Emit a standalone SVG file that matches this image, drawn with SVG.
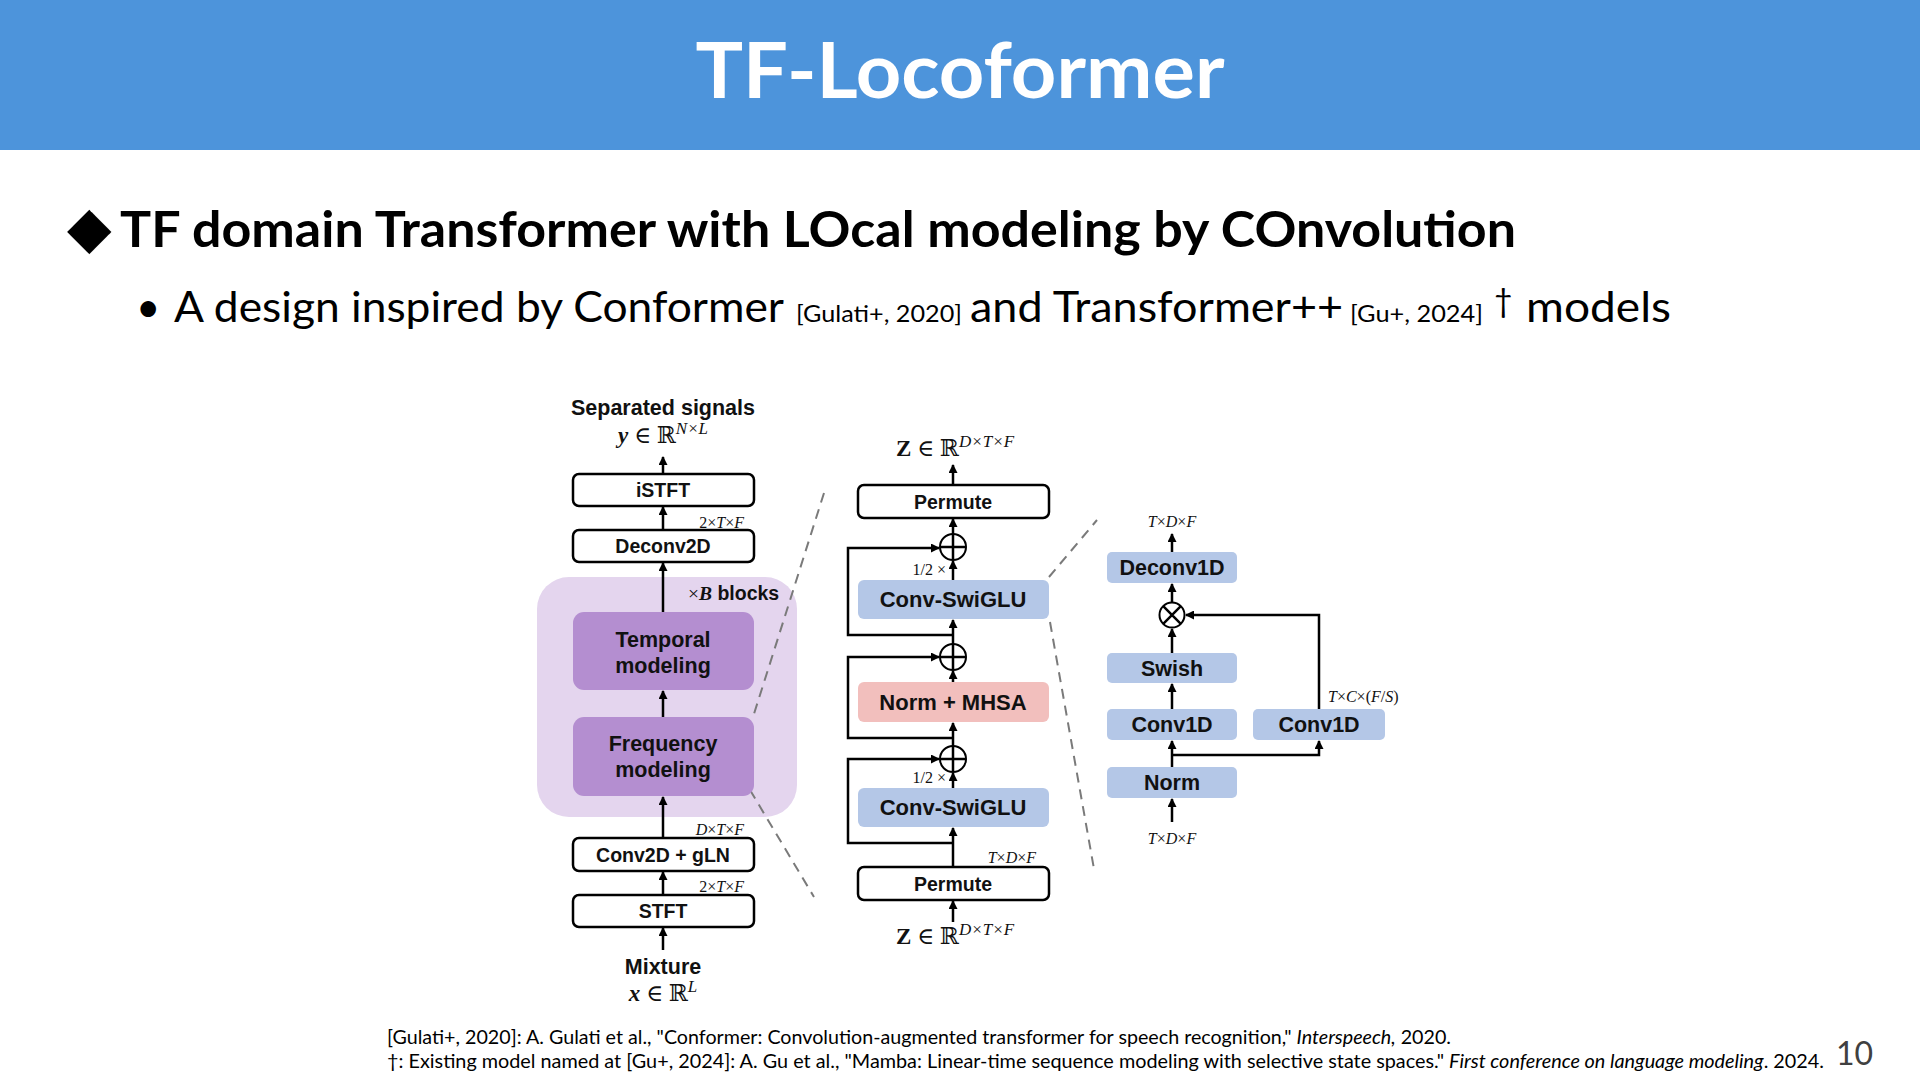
<svg xmlns="http://www.w3.org/2000/svg" width="1920" height="1080" viewBox="0 0 1920 1080">
<defs>
<style>
.slide{font-family:Lato,"Open Sans","Liberation Sans",sans-serif;fill:#000}
.lbl{font-family:"Liberation Sans",Arial,sans-serif;font-weight:bold;fill:#111;text-anchor:middle}
.math{font-family:"Liberation Serif","DejaVu Serif",serif;fill:#111}
.dim{font-family:"Liberation Serif","DejaVu Serif",serif;font-size:16px;fill:#111}
.wbox{fill:#fff;stroke:#000;stroke-width:2.5}
.pbox{fill:#B48ED0}
.bbox{fill:#B4C7E7}
.rbox{fill:#F2BFBD}
.arr{stroke:#000;stroke-width:2.5;fill:none;marker-end:url(#ah)}
.ln{stroke:#000;stroke-width:2.5;fill:none}
.dash{stroke:#7a7a7a;stroke-width:2;stroke-dasharray:10 7;fill:none}
.op{fill:#fff;stroke:#000;stroke-width:2}
</style>
<marker id="ah" markerUnits="userSpaceOnUse" markerWidth="9" markerHeight="9" refX="8" refY="4.5" orient="auto">
<path d="M0,0 L9,4.5 L0,9 z" fill="#000"/>
</marker>
</defs>
<rect width="1920" height="1080" fill="#fff"/>
<g id="header">
<rect x="0" y="0" width="1920" height="150" fill="#4D94DB"/>
<text x="960" y="98" text-anchor="middle" font-family="Lato,'Open Sans',sans-serif" font-weight="bold" font-size="76" fill="#fff" textLength="529" lengthAdjust="spacingAndGlyphs">TF-Locoformer</text>
</g>
<g id="heading">
<text x="67" y="247" font-family="'DejaVu Sans',sans-serif" font-size="58" fill="#000">◆</text>
<text class="slide" x="120" y="247" font-weight="bold" font-size="50" textLength="1396" lengthAdjust="spacingAndGlyphs">TF domain Transformer with LOcal modeling by COnvolution</text>
</g>
<g id="subbullet" class="slide">
<text x="136" y="322" font-size="42">•</text>
<text x="174" y="322" font-size="43" textLength="610" lengthAdjust="spacingAndGlyphs">A design inspired by Conformer</text>
<text x="796" y="322" font-size="23" textLength="166" lengthAdjust="spacingAndGlyphs">[Gulati+, 2020]</text>
<text x="970" y="322" font-size="43" textLength="373" lengthAdjust="spacingAndGlyphs">and Transformer++</text>
<text x="1350" y="322" font-size="23" textLength="133" lengthAdjust="spacingAndGlyphs">[Gu+, 2024]</text>
<text x="1494" y="312" font-size="32">†</text>
<text x="1526" y="322" font-size="43" textLength="145" lengthAdjust="spacingAndGlyphs">models</text>
</g>
<g id="diagram">
<g id="blocks-bg"><rect x="537" y="577" width="260" height="240" rx="32" fill="#E4D5EE"/></g>
<g id="connectors">
<line class="arr" x1="663" y1="474" x2="663" y2="457"/>
<line class="arr" x1="663" y1="530" x2="663" y2="507"/>
<line class="arr" x1="663" y1="612" x2="663" y2="563"/>
<line class="arr" x1="663" y1="717" x2="663" y2="691"/>
<line class="arr" x1="663" y1="838" x2="663" y2="797"/>
<line class="arr" x1="663" y1="895" x2="663" y2="872"/>
<line class="arr" x1="663" y1="950" x2="663" y2="928"/>
<line class="arr" x1="953" y1="485" x2="953" y2="465"/>
<line class="arr" x1="953" y1="534" x2="953" y2="519"/>
<line class="arr" x1="953" y1="580" x2="953" y2="561"/>
<line class="arr" x1="953" y1="644" x2="953" y2="620"/>
<line class="arr" x1="953" y1="682" x2="953" y2="671"/>
<line class="arr" x1="953" y1="746" x2="953" y2="723"/>
<line class="arr" x1="953" y1="788" x2="953" y2="773"/>
<line class="arr" x1="953" y1="867" x2="953" y2="828"/>
<line class="arr" x1="953" y1="922" x2="953" y2="901"/>
<path class="arr" d="M953,635 H848 V548 H939"/>
<path class="arr" d="M953,738 H848 V657 H939"/>
<path class="arr" d="M953,843 H848 V759 H939"/>
<line class="arr" x1="1172" y1="552" x2="1172" y2="534"/>
<line class="arr" x1="1172" y1="603" x2="1172" y2="584"/>
<line class="arr" x1="1172" y1="653" x2="1172" y2="629"/>
<line class="arr" x1="1172" y1="709" x2="1172" y2="684"/>
<line class="arr" x1="1172" y1="767" x2="1172" y2="741"/>
<line class="arr" x1="1172" y1="822" x2="1172" y2="799"/>
<path class="arr" d="M1172,755 H1319 V741"/>
<path class="arr" d="M1319,709 V615 H1186"/>
<line class="dash" x1="824" y1="493" x2="753" y2="717"/>
<line class="dash" x1="750" y1="790" x2="814" y2="897"/>
<line class="dash" x1="1049" y1="577" x2="1097" y2="520"/>
<line class="dash" x1="1050" y1="622" x2="1094" y2="869"/>
</g>
<g id="n-separated">
<text class="lbl" x="663" y="415" font-size="21.5">Separated signals</text>
<text class="math" x="663" y="443" text-anchor="middle" font-size="23"><tspan font-weight="bold" font-style="italic">y</tspan> ∈ ℝ<tspan font-style="italic" font-size="17" dy="-9">N×L</tspan></text>
</g>
<g id="n-istft"><rect class="wbox" x="573" y="474" width="181" height="32" rx="6"/><text class="lbl" x="663" y="497" font-size="19.5">iSTFT</text></g>
<text class="dim" x="744" y="528" text-anchor="end">2×<tspan font-style="italic">T</tspan>×<tspan font-style="italic">F</tspan></text>
<g id="n-deconv2d"><rect class="wbox" x="573" y="530" width="181" height="32" rx="6"/><text class="lbl" x="663" y="553" font-size="19.5">Deconv2D</text></g>
<text x="688" y="600" font-size="19.5" fill="#111"><tspan font-family="'Liberation Serif',serif">×</tspan><tspan font-family="'Liberation Serif',serif" font-weight="bold" font-style="italic">B</tspan><tspan font-family="'Liberation Sans',sans-serif" font-weight="bold"> blocks</tspan></text>
<g id="n-temporal"><rect class="pbox" x="573" y="612" width="181" height="78" rx="11"/><text class="lbl" x="663" y="647" font-size="21.5">Temporal</text><text class="lbl" x="663" y="673" font-size="21.5">modeling</text></g>
<g id="n-frequency"><rect class="pbox" x="573" y="717" width="181" height="79" rx="11"/><text class="lbl" x="663" y="751" font-size="21.5">Frequency</text><text class="lbl" x="663" y="777" font-size="21.5">modeling</text></g>
<text class="dim" x="744" y="835" text-anchor="end"><tspan font-style="italic">D</tspan>×<tspan font-style="italic">T</tspan>×<tspan font-style="italic">F</tspan></text>
<g id="n-conv2d"><rect class="wbox" x="573" y="838" width="181" height="33" rx="6"/><text class="lbl" x="663" y="862" font-size="19.5">Conv2D + gLN</text></g>
<text class="dim" x="744" y="892" text-anchor="end">2×<tspan font-style="italic">T</tspan>×<tspan font-style="italic">F</tspan></text>
<g id="n-stft"><rect class="wbox" x="573" y="895" width="181" height="32" rx="6"/><text class="lbl" x="663" y="918" font-size="19.5">STFT</text></g>
<g id="n-mixture">
<text class="lbl" x="663" y="974" font-size="21.5">Mixture</text>
<text class="math" x="663" y="1001" text-anchor="middle" font-size="23"><tspan font-weight="bold" font-style="italic">x</tspan> ∈ ℝ<tspan font-style="italic" font-size="17" dy="-9">L</tspan></text>
</g>
<g id="n-z-out"><text class="math" x="955" y="456" text-anchor="middle" font-size="23"><tspan font-weight="bold">Z</tspan> ∈ ℝ<tspan font-style="italic" font-size="17" dy="-9">D×T×F</tspan></text></g>
<g id="n-permute-out"><rect class="wbox" x="858" y="485" width="191" height="33" rx="6"/><text class="lbl" x="953" y="509" font-size="19.5">Permute</text></g>
<g id="n-add1"><circle class="op" cx="953" cy="547" r="13"/><path class="ln" d="M940,547 H966 M953,534 V560" stroke-width="2"/></g>
<text class="dim" x="946" y="575" text-anchor="end">1/2 ×</text>
<g id="n-swiglu1"><rect class="bbox" x="858" y="580" width="191" height="39" rx="6"/><text class="lbl" x="953" y="607" font-size="22">Conv-SwiGLU</text></g>
<g id="n-add2"><circle class="op" cx="953" cy="657" r="13"/><path class="ln" d="M940,657 H966 M953,644 V670" stroke-width="2"/></g>
<g id="n-mhsa"><rect class="rbox" x="858" y="682" width="191" height="40" rx="6"/><text class="lbl" x="953" y="710" font-size="22">Norm + MHSA</text></g>
<g id="n-add3"><circle class="op" cx="953" cy="759" r="13"/><path class="ln" d="M940,759 H966 M953,746 V772" stroke-width="2"/></g>
<text class="dim" x="946" y="783" text-anchor="end">1/2 ×</text>
<g id="n-swiglu2"><rect class="bbox" x="858" y="788" width="191" height="39" rx="6"/><text class="lbl" x="953" y="815" font-size="22">Conv-SwiGLU</text></g>
<text class="dim" x="1036" y="863" text-anchor="end"><tspan font-style="italic">T</tspan>×<tspan font-style="italic">D</tspan>×<tspan font-style="italic">F</tspan></text>
<g id="n-permute-in"><rect class="wbox" x="858" y="867" width="191" height="33" rx="6"/><text class="lbl" x="953" y="891" font-size="19.5">Permute</text></g>
<g id="n-z-in"><text class="math" x="955" y="944" text-anchor="middle" font-size="23"><tspan font-weight="bold">Z</tspan> ∈ ℝ<tspan font-style="italic" font-size="17" dy="-9">D×T×F</tspan></text></g>
<text class="dim" x="1172" y="527" text-anchor="middle"><tspan font-style="italic">T</tspan>×<tspan font-style="italic">D</tspan>×<tspan font-style="italic">F</tspan></text>
<g id="n-deconv1d"><rect class="bbox" x="1107" y="552" width="130" height="31" rx="5"/><text class="lbl" x="1172" y="575" font-size="21.5">Deconv1D</text></g>
<g id="n-mul"><circle class="op" cx="1172" cy="615" r="12.5"/><path class="ln" d="M1163.2,606.2 L1180.8,623.8 M1180.8,606.2 L1163.2,623.8" stroke-width="2"/></g>
<g id="n-swish"><rect class="bbox" x="1107" y="653" width="130" height="30" rx="5"/><text class="lbl" x="1172" y="676" font-size="21.5">Swish</text></g>
<g id="n-conv1d-a"><rect class="bbox" x="1107" y="709" width="130" height="31" rx="5"/><text class="lbl" x="1172" y="732" font-size="21.5">Conv1D</text></g>
<g id="n-conv1d-b"><rect class="bbox" x="1253" y="709" width="132" height="31" rx="5"/><text class="lbl" x="1319" y="732" font-size="21.5">Conv1D</text></g>
<text class="dim" x="1328" y="702"><tspan font-style="italic">T</tspan>×<tspan font-style="italic">C</tspan>×(<tspan font-style="italic">F</tspan>/<tspan font-style="italic">S</tspan>)</text>
<g id="n-norm"><rect class="bbox" x="1107" y="767" width="130" height="31" rx="5"/><text class="lbl" x="1172" y="790" font-size="21.5">Norm</text></g>
<text class="dim" x="1172" y="844" text-anchor="middle"><tspan font-style="italic">T</tspan>×<tspan font-style="italic">D</tspan>×<tspan font-style="italic">F</tspan></text>
</g>
<g id="footnotes" class="slide" font-size="20">
<text x="387" y="1044" textLength="1064" lengthAdjust="spacingAndGlyphs">[Gulati+, 2020]: A. Gulati et al., "Conformer: Convolution-augmented transformer for speech recognition," <tspan font-style="italic">Interspeech,</tspan> 2020.</text>
<text x="387" y="1068" textLength="1437" lengthAdjust="spacingAndGlyphs">†: Existing model named at [Gu+, 2024]: A. Gu et al., "Mamba: Linear-time sequence modeling with selective state spaces." <tspan font-style="italic">First conference on language modeling</tspan>. 2024.</text>
<text x="1836" y="1065" font-size="32" fill="#404040">10</text>
</g>
</svg>
